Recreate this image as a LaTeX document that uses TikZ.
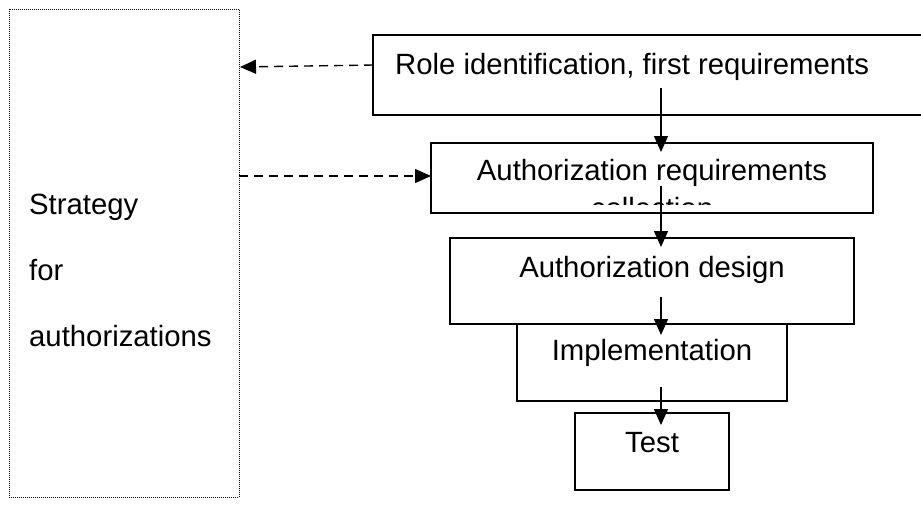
\documentclass[tikz,border=0pt]{standalone}
\usepackage{fontspec}
\setmainfont{Liberation Sans}
\usetikzlibrary{arrows.meta}
\begin{document}
\begin{tikzpicture}[x=1pt,y=-1pt,
  box/.style={draw, line width=2pt, inner sep=0pt, outer sep=0pt, anchor=north west},
  stratbox/.style={draw, line width=1pt, dash pattern=on 1pt off 1pt, inner sep=0pt, outer sep=0pt, anchor=north west},
  lbl/.style={font=\fontsize{29.3}{34}\selectfont, inner sep=0pt, anchor=base},
  lblw/.style={lbl, anchor=base west},
  flow/.style={-{Triangle[length=16pt,width=14pt]}, line width=1.4pt},
  dasharrow/.style={-{Triangle[length=16pt,width=14pt]}, line width=1.4pt, dash pattern=on 9pt off 6pt}
]
\useasboundingbox (0,0) rectangle (921,507);
\clip (0,0) rectangle (921,507);

% boxes
\node[stratbox, minimum width=230pt, minimum height=488pt] (strat) at (9,9) {};
\node[box, minimum width=560pt, minimum height=80pt] (b1) at (373,35) {};
\node[box, minimum width=442pt, minimum height=70pt] (b2) at (431,143) {};
\node[box, minimum width=404pt, minimum height=86pt] (b3) at (450,238) {};
\node[box, minimum width=270pt, minimum height=77pt] (b4) at (517,324) {};
\node[box, minimum width=154pt, minimum height=77pt] (b5) at (575,413) {};

% texts
\node[lblw] (t1) at (29,214) {Strategy};
\node[lblw] (t2) at (29,280) {for};
\node[lblw] (t3) at (29,346) {authorizations};
\node[lblw] (r1) at (395,74) {Role identification, first requirements};
\node[lbl] (r2) at (652,180) {Authorization requirements};
\begin{scope}
  \clip (431,143) rectangle (873,204);
  \node[lbl] (r2b) at (652,218) {collection};
\end{scope}
\node[lbl] (r3) at (652,277) {Authorization design};
\node[lbl] (r4) at (652,360) {Implementation};
\node[lbl] (r5) at (652,452) {Test};

% connector end points
\coordinate (a1s) at (661,88);  \coordinate (a1e) at (661,152);
\coordinate (a2s) at (661,186); \coordinate (a2e) at (661,247);
\coordinate (a3s) at (661,297); \coordinate (a3e) at (661,335);
\coordinate (a4s) at (661,387); \coordinate (a4e) at (661,425);
\coordinate (d1s) at (373,65);  \coordinate (d1e) at (240,67);
\coordinate (d2s) at (239,176); \coordinate (d2e) at (431,176);

\draw[flow] (a1s) -- (a1e);
\draw[flow] (a2s) -- (a2e);
\draw[flow] (a3s) -- (a3e);
\draw[flow] (a4s) -- (a4e);
\draw[dasharrow] (d1s) -- (d1e);
\draw[dasharrow] (d2s) -- (d2e);
\end{tikzpicture}
\end{document}
